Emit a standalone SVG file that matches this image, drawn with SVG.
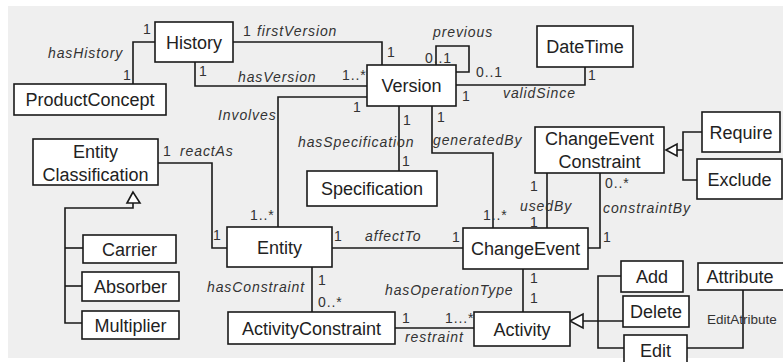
<svg xmlns="http://www.w3.org/2000/svg" width="783" height="362" viewBox="0 0 783 362">
<style>
.bg{fill:#efefef}
.box{fill:#fff;stroke:#1a1a1a;stroke-width:1.6}
.ln{fill:none;stroke:#1a1a1a;stroke-width:1.6}
.tri{fill:#fff;stroke:#1a1a1a;stroke-width:1.6}
.t{font-family:"Liberation Sans",Arial,sans-serif;font-size:18px;fill:#222;text-anchor:middle}
.l{font-family:"Liberation Sans",Arial,sans-serif;font-size:14px;fill:#333;font-style:italic;letter-spacing:0.9px}
.m{font-family:"Liberation Sans",Arial,sans-serif;font-size:14px;fill:#333;letter-spacing:0.9px}
</style>
<rect x="0" y="0" width="783" height="362" fill="#fff"/>
<rect class="bg" x="8" y="6" width="775" height="352"/>
<g id="connectors">
<polyline class="ln" points="155,42 133,42 133,84"/>
<polyline class="ln" points="233,42 382,42 382,65"/>
<polyline class="ln" points="195,62 195,86 367,86"/>
<polyline class="ln" points="436,65 436,46 469,46 469,72 456,72"/>
<polyline class="ln" points="456,85 585,85 585,67"/>
<polyline class="ln" points="367,97 278,97 278,227"/>
<line class="ln" x1="399" y1="106" x2="399" y2="171"/>
<polyline class="ln" points="432,106 432,153 493,153 493,228"/>
<polyline class="ln" points="158,163 212,163 212,248 227,248"/>
<polygon class="tri" points="133,192 127,203 140,203"/>
<polyline class="ln" points="133,203 133,208 65,208 65,323 82,323"/>
<line class="ln" x1="65" y1="248" x2="83" y2="248"/>
<line class="ln" x1="65" y1="286" x2="82" y2="286"/>
<line class="ln" x1="547" y1="173" x2="547" y2="228"/>
<polyline class="ln" points="600,173 600,248 588,248"/>
<polygon class="tri" points="666,150 677,144 677,156"/>
<polyline class="ln" points="677,150 683,150"/>
<polyline class="ln" points="702,132 683,132 683,180 697,180"/>
<line class="ln" x1="332" y1="248" x2="463" y2="248"/>
<line class="ln" x1="312" y1="267" x2="312" y2="312"/>
<line class="ln" x1="523" y1="269" x2="523" y2="312"/>
<line class="ln" x1="395" y1="328" x2="474" y2="328"/>
<polygon class="tri" points="570,321 583,314 583,328"/>
<line class="ln" x1="583" y1="321" x2="623" y2="321"/>
<polyline class="ln" points="621,276 598,276 598,348 624,348"/>
<polyline class="ln" points="687,348 743,348 743,290"/>
</g>
<g id="History"><rect class="box" x="155" y="22" width="78" height="40"/><text class="t" x="194" y="48.5">History</text></g>
<g id="ProductConcept"><rect class="box" x="14" y="84" width="152" height="31"/><text class="t" x="90" y="106">ProductConcept</text></g>
<g id="Version"><rect class="box" x="367" y="65" width="89" height="41"/><text class="t" x="411.5" y="92">Version</text></g>
<g id="DateTime"><rect class="box" x="537" y="26" width="96" height="41"/><text class="t" x="585" y="53">DateTime</text></g>
<g id="EntityClassification"><rect class="box" x="33" y="139" width="125" height="46"/><text class="t" x="95.5" y="158">Entity</text><text class="t" x="95.5" y="181">Classification</text></g>
<g id="Specification"><rect class="box" x="307" y="171" width="130" height="35"/><text class="t" x="372" y="195">Specification</text></g>
<g id="ChangeEventConstraint"><rect class="box" x="535" y="127" width="129" height="46"/><text class="t" x="599.5" y="145">ChangeEvent</text><text class="t" x="599.5" y="168">Constraint</text></g>
<g id="Require"><rect class="box" x="702" y="112" width="78" height="40"/><text class="t" x="741" y="138.5">Require</text></g>
<g id="Exclude"><rect class="box" x="697" y="159" width="85" height="40"/><text class="t" x="739.5" y="185.5">Exclude</text></g>
<g id="Entity"><rect class="box" x="227" y="227" width="105" height="40"/><text class="t" x="279.5" y="253.5">Entity</text></g>
<g id="ChangeEvent"><rect class="box" x="463" y="228" width="125" height="41"/><text class="t" x="525.5" y="255">ChangeEvent</text></g>
<g id="Carrier"><rect class="box" x="83" y="235" width="93" height="28"/><text class="t" x="129.5" y="255.5">Carrier</text></g>
<g id="Absorber"><rect class="box" x="82" y="272" width="97" height="29"/><text class="t" x="130.5" y="293">Absorber</text></g>
<g id="Multiplier"><rect class="box" x="82" y="311" width="97" height="28"/><text class="t" x="130.5" y="331.5">Multiplier</text></g>
<g id="ActivityConstraint"><rect class="box" x="228" y="312" width="167" height="32"/><text class="t" x="311.5" y="334.5">ActivityConstraint</text></g>
<g id="Activity"><rect class="box" x="474" y="312" width="96" height="34"/><text class="t" x="522" y="335.5">Activity</text></g>
<g id="Add"><rect class="box" x="621" y="261" width="62" height="31"/><text class="t" x="652" y="283">Add</text></g>
<g id="Delete"><rect class="box" x="623" y="296" width="66" height="31"/><text class="t" x="656" y="318">Delete</text></g>
<g id="Edit"><rect class="box" x="624" y="335" width="63" height="32"/><text class="t" x="655.5" y="357">Edit</text></g>
<g id="Attribute"><rect class="box" x="698" y="263" width="92" height="27"/><text class="t" x="740" y="283">Attribute</text></g>
<g id="labels">
<text class="m" x="143" y="34">1</text>
<text class="l" x="48" y="58">hasHistory</text>
<text class="m" x="123" y="80">1</text>
<text class="m" x="243" y="36">1</text>
<text class="l" x="257" y="36">firstVersion</text>
<text class="m" x="387" y="57">1</text>
<text class="m" x="199" y="76">1</text>
<text class="l" x="238" y="82">hasVersion</text>
<text class="m" x="342" y="80">1..*</text>
<text class="l" x="433" y="37">previous</text>
<text class="m" x="425" y="63">0..1</text>
<text class="m" x="476" y="77">0..1</text>
<text class="m" x="588" y="80">1</text>
<text class="m" x="462" y="101">1</text>
<text class="l" x="503" y="98">validSince</text>
<text class="l" x="218" y="120">Involves</text>
<text class="m" x="353" y="112">1</text>
<text class="m" x="403" y="125">1</text>
<text class="m" x="437" y="122">1</text>
<text class="l" x="298" y="147">hasSpecification</text>
<text class="m" x="402" y="166">1</text>
<text class="l" x="433" y="145">generatedBy</text>
<text class="m" x="483" y="220">1..*</text>
<text class="m" x="163" y="156">1</text>
<text class="l" x="180" y="156">reactAs</text>
<text class="m" x="213" y="240">1</text>
<text class="m" x="250" y="220">1..*</text>
<text class="m" x="530" y="191">1</text>
<text class="l" x="520" y="211">usedBy</text>
<text class="m" x="530" y="227">1</text>
<text class="m" x="605" y="188">0..*</text>
<text class="l" x="603" y="213">constraintBy</text>
<text class="m" x="603" y="242">1</text>
<text class="m" x="334" y="241">1</text>
<text class="l" x="365" y="241">affectTo</text>
<text class="m" x="452" y="242">1</text>
<text class="l" x="207" y="292">hasConstraint</text>
<text class="m" x="318" y="285">1</text>
<text class="m" x="318" y="307">0..*</text>
<text class="l" x="385" y="295">hasOperationType</text>
<text class="m" x="530" y="283">1</text>
<text class="m" x="530" y="303">1</text>
<text class="m" x="402" y="323">1</text>
<text class="m" x="445" y="323">1...*</text>
<text class="l" x="405" y="342">restraint</text>
<text class="m" x="707" y="324" style="font-size:13.5px;letter-spacing:0">EditAtribute</text>
</g>
</svg>
